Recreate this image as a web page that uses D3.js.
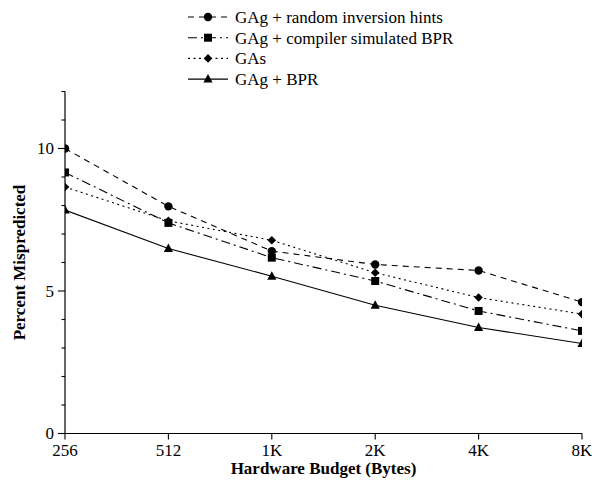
<!DOCTYPE html>
<html><head><meta charset="utf-8">
<script src="https://cdn.jsdelivr.net/npm/d3@7"></script>
<style>body{margin:0;background:#fff}svg{display:block}</style>
</head><body>
<svg id="c" width="592" height="483" style="font-family:'Liberation Serif','Times New Roman',Times,serif"></svg>
<script>
const categories = ["256","512","1K","2K","4K","8K"];
const seriesNames = ["GAg + random inversion hints","GAg + compiler simulated BPR","GAs","GAg + BPR"];
const randomHints = [10.0, 7.97, 6.40, 5.93, 5.72, 4.61];
const compilerBPR = [9.16, 7.39, 6.17, 5.35, 4.30, 3.60];
const gas = [8.65, 7.46, 6.78, 5.64, 4.77, 4.19];
const gagBPR = [7.84, 6.49, 5.52, 4.50, 3.72, 3.16];
const yTickLabels = [0, 5, 10];

const FONT = "Liberation Serif, Times New Roman, Times, serif";
const series = [
  {name: seriesNames[0], values: randomHints, dash: "6,5", marker: "circle"},
  {name: seriesNames[1], values: compilerBPR, dash: "9,4,2,4", marker: "square"},
  {name: seriesNames[2], values: gas, dash: "2,3.5", marker: "diamond"},
  {name: seriesNames[3], values: gagBPR, dash: null, marker: "triangle"}
];

const svg = d3.select("#c");
const L = 65, R = 582, T = 91.5, B = 433.5;
const x = d3.scalePoint().domain(categories).range([L, R]);
const y = d3.scaleLinear().domain([0, 12]).range([B, T]);

svg.append("defs").append("clipPath").attr("id","clip")
  .append("rect").attr("x", L).attr("y", 0).attr("width", R - L).attr("height", 483);

function txt(g){ return g.append("text").attr("font-family", FONT).attr("fill","#000"); }

// y axis
const gy = svg.append("g").attr("transform", `translate(${L},0)`);
gy.append("line").attr("x1",0).attr("x2",0).attr("y1",y(12)).attr("y2",y(0)).attr("stroke","#000").attr("stroke-width",1.2);
d3.range(0,13).forEach(v=>{
  const major = yTickLabels.includes(v);
  gy.append("line").attr("x1", major ? -7 : -3.5).attr("x2",0).attr("y1",y(v)).attr("y2",y(v)).attr("stroke","#000").attr("stroke-width",1.1);
});
yTickLabels.forEach(v=>{
  txt(gy).attr("x",-11).attr("y",y(v)).attr("dy","0.35em").attr("text-anchor","end").attr("font-size",17).text(v);
});

// x axis
const gx = svg.append("g").attr("transform", `translate(0,${B})`);
gx.append("line").attr("x1",L).attr("x2",R).attr("y1",0).attr("y2",0).attr("stroke","#000").attr("stroke-width",1.2);
categories.forEach(c=>{
  gx.append("line").attr("x1",x(c)).attr("x2",x(c)).attr("y1",0).attr("y2",6).attr("stroke","#000").attr("stroke-width",1.1);
  txt(gx).attr("x",x(c)).attr("y",22).attr("text-anchor","middle").attr("font-size",17).text(c);
});

// axis titles
txt(svg).attr("x",(L+R)/2).attr("y",474).attr("text-anchor","middle").attr("font-size",17).attr("font-weight","bold").text("Hardware Budget (Bytes)");
txt(svg).attr("transform",`translate(25,${(T+B)/2}) rotate(-90)`).attr("text-anchor","middle").attr("font-size",17).attr("font-weight","bold").text("Percent Mispredicted");

function drawMarker(g, type, cx, cy){
  if(type==="circle") g.append("circle").attr("cx",cx).attr("cy",cy).attr("r",4.2).attr("fill","#000");
  else if(type==="square") g.append("rect").attr("x",cx-4).attr("y",cy-4).attr("width",8).attr("height",8).attr("fill","#000");
  else if(type==="diamond") g.append("path").attr("d",`M${cx},${cy-4.3}L${cx+4.3},${cy}L${cx},${cy+4.3}L${cx-4.3},${cy}Z`).attr("fill","#000");
  else g.append("path").attr("d",`M${cx},${cy-5}L${cx+4.6},${cy+3.5}L${cx-4.6},${cy+3.5}Z`).attr("fill","#000");
}

const plot = svg.append("g").attr("clip-path","url(#clip)");
const line = d3.line().x((d,i)=>x(categories[i])).y(d=>y(d));
series.forEach(s=>{
  plot.append("path").datum(s.values).attr("d",line).attr("fill","none").attr("stroke","#000").attr("stroke-width",1.1)
    .attr("stroke-dasharray", s.dash);
  s.values.forEach((v,i)=>drawMarker(plot, s.marker, x(categories[i]), y(v)));
});

// legend
const lg = svg.append("g");
series.forEach((s,i)=>{
  const yy = 17 + i*20.7;
  lg.append("line").attr("x1",188).attr("x2",228).attr("y1",yy).attr("y2",yy).attr("stroke","#000").attr("stroke-width",1.1).attr("stroke-dasharray",s.dash);
  drawMarker(lg, s.marker, 208, yy);
  txt(lg).attr("x",235).attr("y",yy).attr("dy","0.35em").attr("font-size",17).text(s.name);
});
</script>
</body></html>
